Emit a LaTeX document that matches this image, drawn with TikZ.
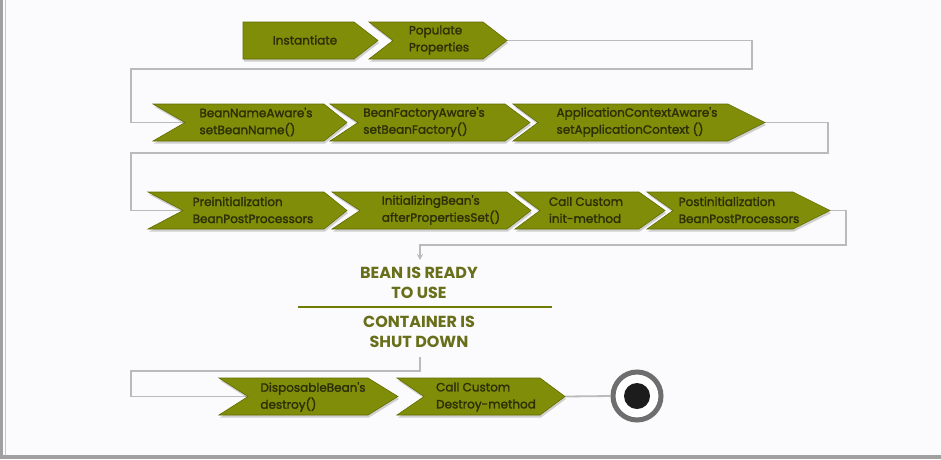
\documentclass[tikz,border=0pt]{standalone}
\usepackage{fontspec}
\setmainfont{Poppins}
\newfontfamily\boxfont{Poppins}[FakeBold=1.6]
\usetikzlibrary{shadows,arrows.meta}
\definecolor{boxfill}{RGB}{128,141,8}
\definecolor{boxedge}{RGB}{98,108,0}
\definecolor{boxtext}{RGB}{44,46,6}
\definecolor{titletext}{RGB}{104,110,26}
\definecolor{titleline}{RGB}{112,124,0}
\definecolor{wire}{RGB}{186,186,186}
\definecolor{bgcol}{RGB}{251,250,252}
\definecolor{framecol}{RGB}{160,160,160}
\definecolor{ringcol}{RGB}{110,110,110}
\definecolor{dotcol}{RGB}{28,28,28}

% #1 name, #2 left tips x, #3 notch inner x, #4 shoulder x, #5 tip x, #6 top y, #7 bottom y
\newcommand\chevshape[7]{%
  \path[chevbox] (#2,#6) -- (#4,#6) -- (#5,{(#6+#7)/2}) -- (#4,#7) -- (#2,#7) -- (#3,{(#6+#7)/2}) -- cycle;
  \coordinate (#1-in) at (#3,{(#6+#7)/2});
  \coordinate (#1-out) at (#5,{(#6+#7)/2});
}

\tikzset{
  chevbox/.style={fill=boxfill, draw=boxedge, line width=0.6pt,
    drop shadow={shadow xshift=1pt, shadow yshift=-2.5pt, opacity=0.35}},
  boxlabel/.style={align=left, inner sep=0pt, text=boxtext, font=\boxfont\fontsize{12}{17}\selectfont},
  wireline/.style={draw=wire, line width=1.8pt},
  titlelabel/.style={align=center, inner sep=0pt, text=titletext, font=\bfseries\fontsize{16}{19.5}\selectfont},
}

\begin{document}
\begin{tikzpicture}[x=1pt,y=-1pt]
\useasboundingbox (0,0) rectangle (941,459);
\fill[bgcol] (0,0) rectangle (941,459);
\fill[framecol] (0,0) rectangle (3,459);
\fill[framecol!60] (4.5,0) rectangle (5.5,455);
\fill[framecol] (0,455) rectangle (941,459);

% bend coordinates
\coordinate (b1) at (752,69);
\coordinate (b2) at (131,122.5);
\coordinate (b3) at (828,153);
\coordinate (b4) at (131,210.5);
\coordinate (b5) at (846,245);
\coordinate (arrowend) at (420,260);
\coordinate (b6) at (420,371);
\coordinate (b7) at (131,396.5);

% connection points
\coordinate (pop-out) at (507,40.5);
\coordinate (bna-in) at (185,122.5);
\coordinate (aca-out) at (765,122.5);
\coordinate (pre-in) at (183,210.5);
\coordinate (post-out) at (830,210.5);
\coordinate (dis-in) at (248,396.5);
\coordinate (des-out) at (565,396.5);

% title texts
\node[titlelabel] (ready) at (419,283) {BEAN IS READY\\TO USE};
\node[titlelabel] (shut) at (419,332) {CONTAINER IS\\SHUT DOWN};
\coordinate (sep-l) at (298,307);
\coordinate (sep-r) at (552,307);
\draw[titleline, line width=2.6pt] (sep-l) -- (sep-r);

% end state
\node[circle, minimum size=48pt, inner sep=0pt, fill=white, draw=ringcol, line width=5pt,
      drop shadow={shadow xshift=1pt, shadow yshift=-2pt, opacity=0.3}] (endc) at (637,396) {};
\node[circle, minimum size=26pt, inner sep=0pt, fill=dotcol] (enddot) at (endc.center) {};

% wires
\coordinate (shutfoot) at (420,357);
\draw[wireline] (pop-out) -| (b1) -| (b2) -- (bna-in);
\draw[wireline] (aca-out) -| (b3) -| (b4) -- (pre-in);
\draw[wireline, -{Stealth[length=6pt,width=6pt]}] (post-out) -| (b5) -| (arrowend);
\draw[wireline] (shutfoot) -- (b6) -| (b7) -- (dis-in);
\draw[wireline] (des-out) -- (endc.west);

% row 1
\chevshape{inst}{243}{243}{354}{378}{22}{59}
\chevshape{pop}{369}{393}{483}{507}{22}{59}
% row 2
\chevshape{bna}{153}{185}{324}{347}{104}{141}
\chevshape{bfa}{330}{358}{505}{530}{104}{141}
\chevshape{aca}{513}{538}{728}{765}{104}{141}
% row 3
\chevshape{pre}{148}{183}{324}{347}{192}{229}
\chevshape{ini}{332}{360}{507}{531}{192}{229}
\chevshape{cci}{515}{540}{639}{665}{192}{229}
\chevshape{post}{647}{673}{793}{830}{192}{229}
% row 4
\chevshape{dis}{219}{248}{368}{398}{378}{415}
\chevshape{des}{397}{424}{540}{565}{378}{415}

% labels
\node[boxlabel] (t-inst) at (305,40) {Instantiate};
\node[boxlabel] (t-pop) at (439,40) {Populate\\Properties};
\node[boxlabel] (t-bna) at (256,122) {BeanNameAware's\\setBeanName()};
\node[boxlabel] (t-bfa) at (424,122) {BeanFactoryAware's\\setBeanFactory()};
\node[boxlabel] (t-aca) at (637,122) {ApplicationContextAware's\\setApplicationContext ()};
\node[boxlabel] (t-pre) at (253,210) {Preinitialization\\BeanPostProcessors};
\node[boxlabel] (t-ini) at (441,210) {InitializingBean's\\afterPropertiesSet()};
\node[boxlabel] (t-cci) at (586,210) {Call Custom\\init-method};
\node[boxlabel] (t-post) at (739,210) {Postinitialization\\BeanPostProcessors};
\node[boxlabel] (t-dis) at (313,397) {DisposableBean's\\destroy()};
\node[boxlabel] (t-des) at (486,397) {Call Custom\\Destroy-method};
\end{tikzpicture}
\end{document}
